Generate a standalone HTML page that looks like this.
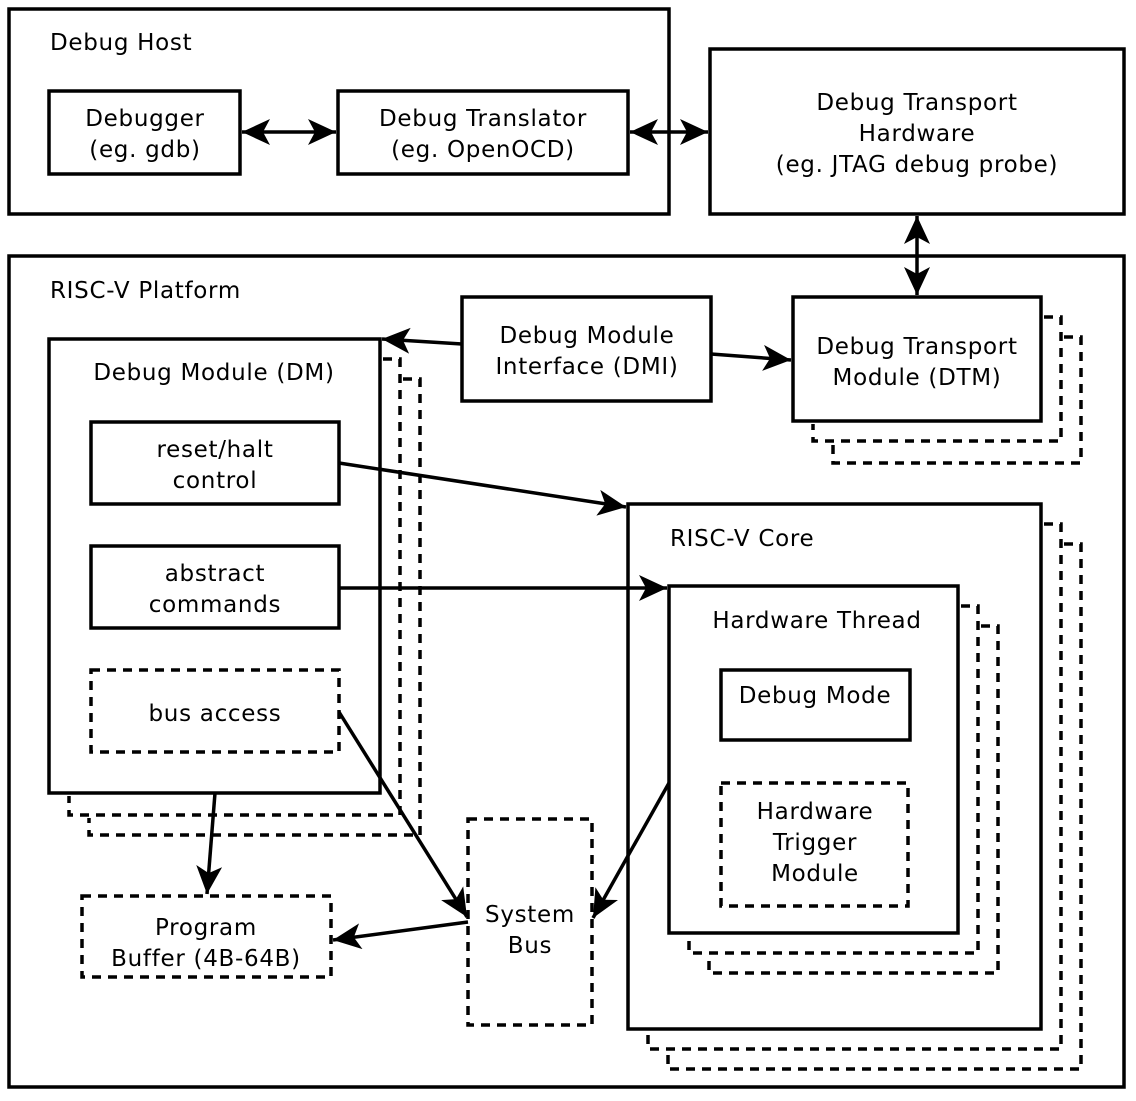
<!DOCTYPE html>
<html><head><style>html,body{margin:0;padding:0;background:#fff}</style></head><body>
<svg width="1136" height="1096" viewBox="0 0 1136 1096" xmlns="http://www.w3.org/2000/svg" font-family="DejaVu Sans, sans-serif" font-size="23" letter-spacing="0.7">
<defs>
<marker id="b" markerWidth="30" markerHeight="26" refX="28" refY="13" orient="auto-start-reverse" markerUnits="userSpaceOnUse"><path d="M0,0 L28,13 L0,26 L7,13 Z" fill="#000"/></marker></defs>
<g fill="none" stroke="#000" stroke-width="3.5">
<rect x="9" y="9" width="660" height="205"/>
<rect x="49" y="91" width="191" height="83"/>
<rect x="338" y="91" width="290" height="83"/>
<rect x="710" y="49" width="414" height="165"/>
<rect x="9" y="256" width="1115" height="831"/>
<rect x="49" y="339" width="331" height="454"/>
<rect x="462" y="297" width="249" height="104"/>
<rect x="793" y="297" width="248" height="124"/>
<rect x="91" y="422" width="248" height="82"/>
<rect x="91" y="546" width="248" height="82"/>
<rect x="628" y="504" width="413" height="525"/>
<rect x="669" y="586" width="289" height="347"/>
<rect x="721" y="670" width="189" height="70"/>
</g>
<g fill="none" stroke="#000" stroke-width="3.5" stroke-dasharray="9,7">
<rect x="91" y="670" width="248" height="82"/>
<rect x="721" y="783" width="187" height="123"/>
<rect x="468" y="819" width="124" height="206"/>
<rect x="82" y="896" width="249" height="81"/>
<path d="M383,359 H400 V815 H69 V796"/>
<path d="M403,379 H420 V835 H89 V818"/>
<path d="M1044,317 H1061 V441 H813 V424"/>
<path d="M1064,337 H1081 V463 H833 V444"/>
<path d="M1044,524 H1061 V1049 H648 V1032"/>
<path d="M1064,544 H1081 V1069 H668 V1052"/>
<path d="M961,606 H978 V953 H689 V936"/>
<path d="M981,626 H998 V973 H709 V956"/>
</g>
<g fill="none" stroke="#000" stroke-width="3.5">
<line x1="242" y1="132" x2="336" y2="132" marker-start="url(#b)" marker-end="url(#b)"/>
<line x1="630" y1="132" x2="708" y2="132" marker-start="url(#b)" marker-end="url(#b)"/>
<line x1="917" y1="216" x2="917" y2="295" marker-start="url(#b)" marker-end="url(#b)"/>
<line x1="462" y1="344" x2="382" y2="339" marker-end="url(#b)"/>
<line x1="711" y1="354" x2="791" y2="360" marker-end="url(#b)"/>
<line x1="339" y1="463" x2="626" y2="507" marker-end="url(#b)"/>
<line x1="339" y1="588" x2="667" y2="588" marker-end="url(#b)"/>
<line x1="339" y1="712" x2="467" y2="917" marker-end="url(#b)"/>
<line x1="669" y1="783" x2="593" y2="918" marker-end="url(#b)"/>
<line x1="215" y1="793" x2="207" y2="894" marker-end="url(#b)"/>
<line x1="468" y1="922" x2="333" y2="940" marker-end="url(#b)"/>
</g>
<g fill="#000">
<text x="50" y="50">Debug Host</text>
<text x="145" y="126" text-anchor="middle">Debugger</text>
<text x="145" y="157" text-anchor="middle">(eg. gdb)</text>
<text x="483" y="126" text-anchor="middle">Debug Translator</text>
<text x="483" y="157" text-anchor="middle">(eg. OpenOCD)</text>
<text x="917" y="110" text-anchor="middle">Debug Transport</text>
<text x="917" y="141" text-anchor="middle">Hardware</text>
<text x="917" y="172" text-anchor="middle">(eg. JTAG debug probe)</text>
<text x="50" y="298">RISC-V Platform</text>
<text x="214" y="380" text-anchor="middle">Debug Module (DM)</text>
<text x="587" y="343" text-anchor="middle">Debug Module</text>
<text x="587" y="374" text-anchor="middle">Interface (DMI)</text>
<text x="917" y="354" text-anchor="middle">Debug Transport</text>
<text x="917" y="385" text-anchor="middle">Module (DTM)</text>
<text x="215" y="457" text-anchor="middle">reset/halt</text>
<text x="215" y="488" text-anchor="middle">control</text>
<text x="215" y="581" text-anchor="middle">abstract</text>
<text x="215" y="612" text-anchor="middle">commands</text>
<text x="215" y="721" text-anchor="middle">bus access</text>
<text x="670" y="546">RISC-V Core</text>
<text x="817" y="628" text-anchor="middle">Hardware Thread</text>
<text x="815" y="703" text-anchor="middle">Debug Mode</text>
<text x="815" y="819" text-anchor="middle">Hardware</text>
<text x="815" y="850" text-anchor="middle">Trigger</text>
<text x="815" y="881" text-anchor="middle">Module</text>
<text x="530" y="922" text-anchor="middle">System</text>
<text x="530" y="953" text-anchor="middle">Bus</text>
<text x="206" y="935" text-anchor="middle">Program</text>
<text x="206" y="966" text-anchor="middle">Buffer (4B-64B)</text>
</g>
</svg>
</body></html>
